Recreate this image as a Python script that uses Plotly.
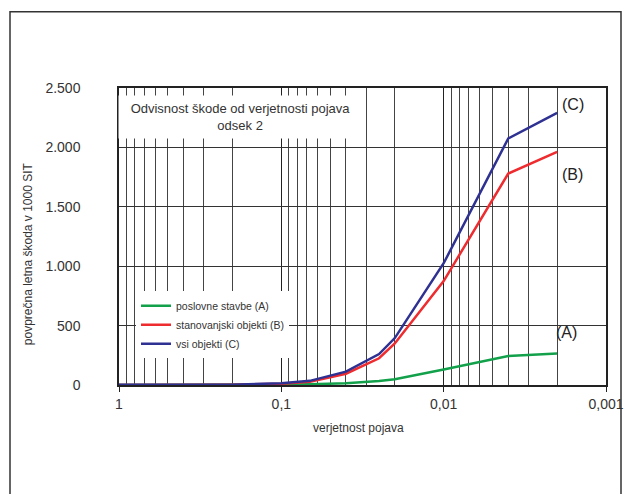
import plotly.graph_objects as go

# probability of occurrence (x) and average annual damage in 1000 SIT (y)
verjetnost = [1, 0.5, 0.2, 0.1, 0.0667, 0.04, 0.025, 0.02, 0.01, 0.004, 0.002]
poslovne_A = [0, 0, 1, 4, 7, 14, 34, 48, 130, 244, 266]
stanovanjski_B = [1, 1, 2, 10, 28, 95, 225, 350, 875, 1780, 1962]
vsi_C = [2, 2, 3, 15, 35, 112, 260, 395, 1025, 2075, 2290]

series_names = ["poslovne stavbe (A)", "stanovanjski objekti (B)", "vsi objekti (C)"]
series_colors = ["#12a14a", "#ee2b2e", "#2e3192"]

x_tickvals = [1, 0.1, 0.01, 0.001]
x_ticktext = ["1", "0,1", "0,01", "0,001"]
y_tickvals = [0, 500, 1000, 1500, 2000, 2500]
y_ticktext = ["0", "500", "1.000", "1.500", "2.000", "2.500"]

FONT = "Liberation Sans, Arial, sans-serif"

fig = go.Figure()
for name, vals, col in zip(series_names, [poslovne_A, stanovanjski_B, vsi_C], series_colors):
    fig.add_trace(go.Scatter(x=verjetnost, y=vals, mode="lines", name=name,
                             line=dict(color=col, width=2.5)))

W, H = 625, 494
L, R, T, B = 119, 19, 87.5, 109
pw, ph = W - L - R, H - T - B

def px(x):
    return (x - L) / pw

def py(y):
    return (H - B - y) / ph

fig.update_layout(
    width=W, height=H,
    margin=dict(l=L, r=R, t=T, b=B, autoexpand=False),
    paper_bgcolor="white", plot_bgcolor="white",
    font=dict(family=FONT, color="#222"),
    showlegend=True,
    legend=dict(x=px(136), y=py(291), xanchor="left", yanchor="top",
                bgcolor="white", font=dict(size=10.5, family=FONT, color="#333"),
                itemwidth=30, tracegroupgap=0),
    xaxis=dict(type="log", range=[0, -3], tickvals=x_tickvals, ticktext=x_ticktext,
               automargin=False,
               showgrid=True, gridcolor="#222", gridwidth=1,
               minor=dict(dtick="D1", showgrid=True, gridcolor="#444", gridwidth=1, ticks=""),
               ticks="outside", ticklen=5, tickcolor="#222",
               showline=True, linecolor="#222", linewidth=1.5, mirror=True,
               tickfont=dict(size=14, family=FONT, color="#333"), zeroline=False),
    yaxis=dict(range=[0, 2500], tickvals=y_tickvals, ticktext=y_ticktext,
               automargin=False,
               showgrid=True, gridcolor="#333", gridwidth=1,
               showline=True, linecolor="#222", linewidth=1.5, mirror=True,
               ticks="", ticklabelstandoff=34,
               tickfont=dict(size=14, family=FONT, color="#333"), zeroline=False),
)

# outer frame
fig.add_shape(type="rect", xref="paper", yref="paper",
              x0=px(10), x1=px(621), y0=py(520), y1=py(11),
              line=dict(color="#333", width=1.5), fillcolor="rgba(0,0,0,0)", layer="below")

fig.add_annotation(xref="paper", yref="paper", x=px(240.5), y=py(117),
                   xanchor="center", yanchor="middle",
                   text="Odvisnost škode od verjetnosti pojava<br>odsek 2",
                   showarrow=False, bgcolor="white", width=241, height=40,
                   align="center", font=dict(size=13, family=FONT, color="#333"))

fig.add_annotation(xref="paper", yref="paper", x=px(358.7), y=py(427.7),
                   xanchor="center", yanchor="middle",
                   text="verjetnost pojava", showarrow=False,
                   font=dict(size=12, family=FONT, color="#333"))
fig.add_annotation(xref="paper", yref="paper", x=px(28), y=py(254),
                   xanchor="center", yanchor="middle",
                   text="povprečna letna škoda v 1000 SIT", showarrow=False, textangle=-90,
                   font=dict(size=12, family=FONT, color="#333"))

for lab, xx, yy in [("(C)", 572.7, 104.3), ("(B)", 572.7, 174.3), ("(A)", 566.8, 332.7)]:
    fig.add_annotation(xref="paper", yref="paper", x=px(xx), y=py(yy), text=lab,
                       xanchor="center", yanchor="middle",
                       showarrow=False, font=dict(size=16, family=FONT, color="#222"))

fig.write_html("out.html", config={"displayModeBar": False},
               post_script="document.body.style.margin='0';document.body.style.overflow='hidden';")
